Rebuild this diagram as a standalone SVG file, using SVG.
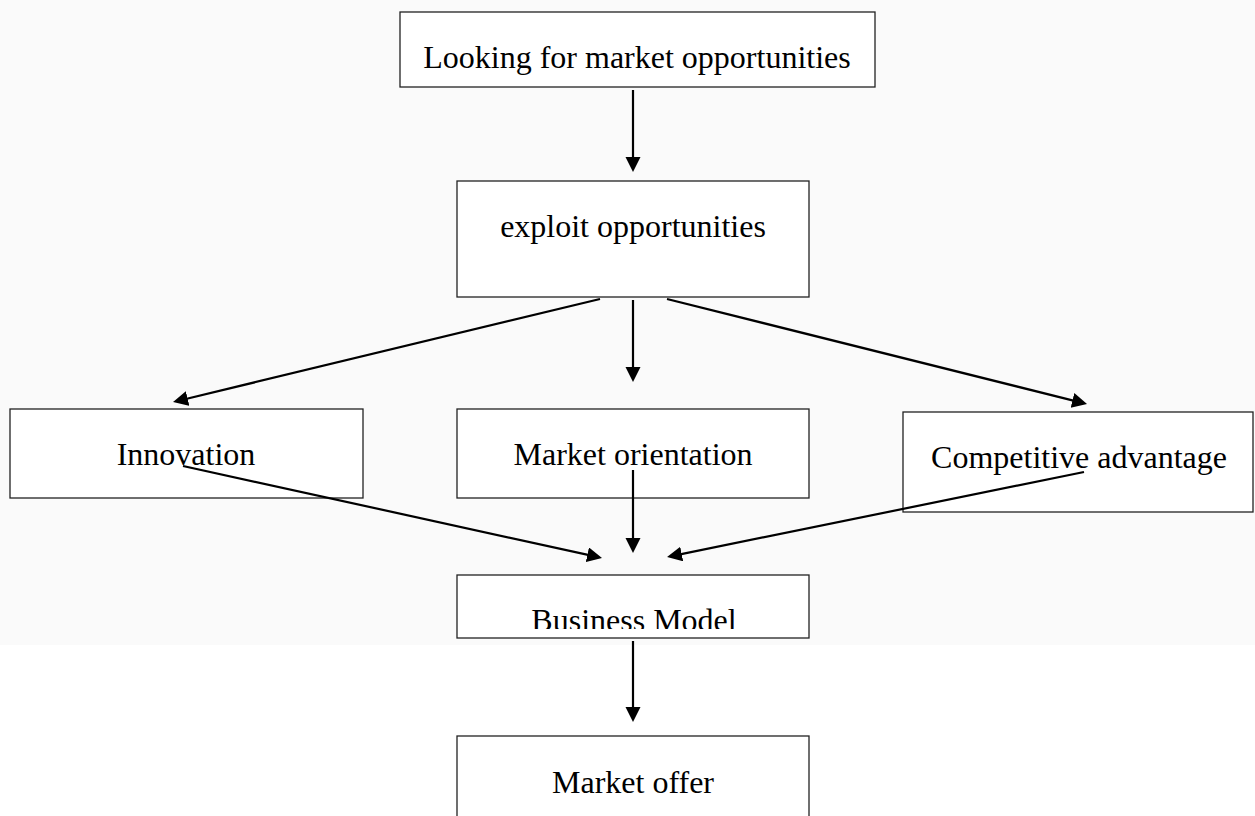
<svg xmlns="http://www.w3.org/2000/svg" width="1255" height="816" viewBox="0 0 1255 816">
  <defs>
    <style>
      .box { fill: #ffffff; stroke: #222222; stroke-width: 1.3; }
      .label { font-family: "Liberation Serif", "Times New Roman", serif; font-size: 32px; fill: #000000; text-anchor: middle; }
      .conn line { stroke: #000000; stroke-width: 2.2; }
    </style>
    <marker id="head" markerUnits="userSpaceOnUse" markerWidth="16" markerHeight="16" refX="3" refY="7.5" orient="auto">
      <path d="M0,0 L15,7.5 L0,15 z" fill="#000000"/>
    </marker>
    <clipPath id="bmClip">
      <rect x="457" y="575" width="352" height="54"/>
    </clipPath>
  </defs>

  <!-- page background: light grey sheet over white -->
  <rect x="0" y="0" width="1255" height="816" fill="#ffffff"/>
  <rect x="0" y="0" width="1255" height="645" fill="#fafafa"/>

  <g id="looking">
    <rect class="box" x="400" y="12" width="475" height="75"/>
    <text class="label" x="637" y="68">Looking for market opportunities</text>
  </g>

  <g id="exploit">
    <rect class="box" x="457" y="181" width="352" height="116"/>
    <text class="label" x="633" y="237">exploit opportunities</text>
  </g>

  <g id="innovation">
    <rect class="box" x="10" y="409" width="353" height="89"/>
    <text class="label" x="186" y="465">Innovation</text>
  </g>

  <g id="market-orientation">
    <rect class="box" x="457" y="409" width="352" height="89"/>
    <text class="label" x="633" y="465">Market orientation</text>
  </g>

  <g id="competitive-advantage">
    <rect class="box" x="903" y="412" width="350" height="100"/>
    <text class="label" x="1079" y="468">Competitive advantage</text>
  </g>

  <g id="business-model">
    <rect class="box" x="457" y="575" width="352" height="63"/>
    <text class="label" x="634" y="631" clip-path="url(#bmClip)">Business Model</text>
  </g>

  <g id="market-offer">
    <rect class="box" x="457" y="736" width="352" height="100"/>
    <text class="label" x="633" y="793">Market offer</text>
  </g>

  <g id="connectors" class="conn">
    <line x1="633" y1="90" x2="633" y2="160" marker-end="url(#head)"/>
    <line x1="633" y1="300" x2="633" y2="370" marker-end="url(#head)"/>
    <line x1="600" y1="299" x2="184.7" y2="399.2" marker-end="url(#head)"/>
    <line x1="667" y1="299" x2="1075.4" y2="401.1" marker-end="url(#head)"/>
    <line x1="183" y1="466" x2="590.3" y2="555.4" marker-end="url(#head)"/>
    <line x1="633" y1="470" x2="633" y2="541" marker-end="url(#head)"/>
    <line x1="1084" y1="472" x2="678.8" y2="554.6" marker-end="url(#head)"/>
    <line x1="633" y1="641" x2="633" y2="710" marker-end="url(#head)"/>
  </g>
</svg>
